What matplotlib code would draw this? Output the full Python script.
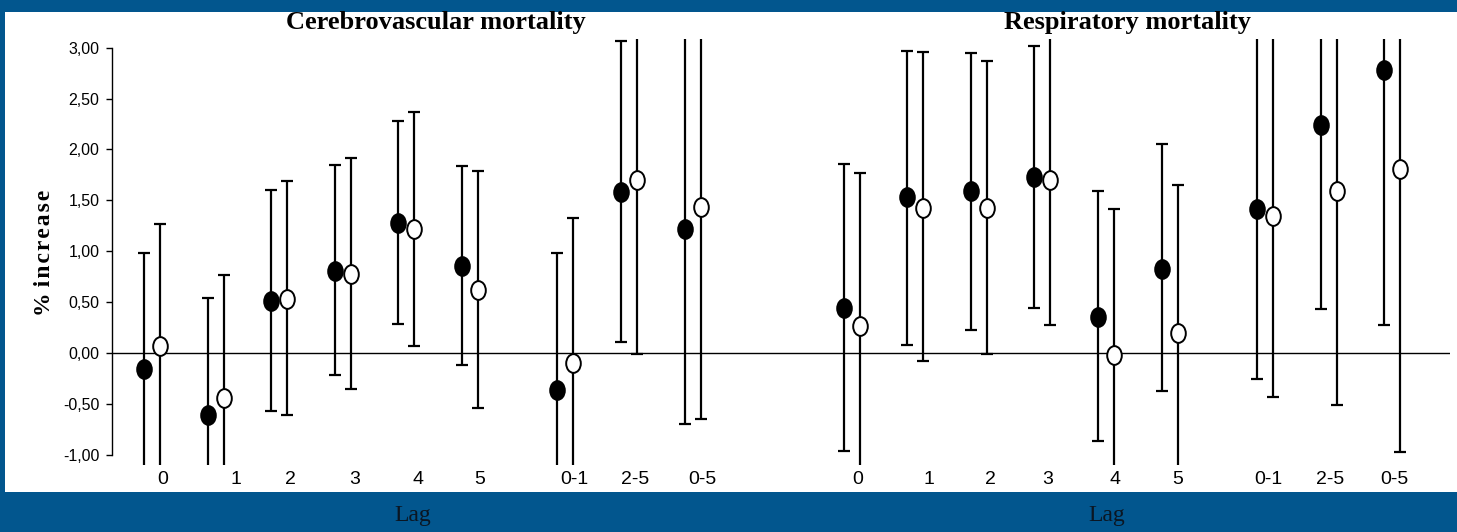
import numpy as np
import matplotlib
matplotlib.use("Agg")
import matplotlib.pyplot as plt
from matplotlib.patches import Rectangle
from matplotlib.path import Path
from matplotlib.transforms import Affine2D

# ── data (% increase in mortality, point estimate and 95% CI) ─────────────
lags = ["0", "1", "2", "3", "4", "5", "0-1", "2-5", "0-5"]

# Cerebrovascular mortality
cereb_filled = [-0.15, -0.61, 0.51, 0.81, 1.28, 0.86, -0.36, 1.58, 1.22]
cereb_filled_lo = [-1.28, -1.76, -0.57, -0.21, 0.29, -0.11, -1.69, 0.11, -0.69]
cereb_filled_hi = [0.98, 0.54, 1.60, 1.85, 2.28, 1.84, 0.98, 3.06, 3.13]
cereb_open = [0.07, -0.44, 0.53, 0.78, 1.22, 0.62, -0.10, 1.70, 1.44]
cereb_open_lo = [-1.14, -1.65, -0.61, -0.35, 0.07, -0.54, -1.53, -0.01, -0.64]
cereb_open_hi = [1.27, 0.77, 1.69, 1.92, 2.37, 1.79, 1.33, 3.41, 3.52]

# Respiratory mortality
resp_filled = [0.44, 1.53, 1.59, 1.73, 0.36, 0.83, 1.42, 2.24, 2.78]
resp_filled_lo = [-0.96, 0.08, 0.23, 0.44, -0.86, -0.37, -0.25, 0.43, 0.28]
resp_filled_hi = [1.86, 2.97, 2.95, 3.02, 1.59, 2.05, 3.12, 4.05, 5.28]
resp_open = [0.27, 1.43, 1.43, 1.70, -0.02, 0.20, 1.35, 1.59, 1.81]
resp_open_lo = [-1.23, -0.08, -0.01, 0.28, -1.46, -1.25, -0.43, -0.51, -0.97]
resp_open_hi = [1.77, 2.96, 2.87, 3.12, 1.42, 1.65, 3.13, 3.69, 4.59]

yticks = [-1.0, -0.5, 0.0, 0.5, 1.0, 1.5, 2.0, 2.5, 3.0]

# ── layout ────────────────────────────────────────────────────────────────
BLUE = "#02568e"
group_pos = np.array([0, 1, 2, 3, 4, 5, 6.5, 7.5, 8.5])
panel_offset = [0.0, 11.0]
# tick labels sit a little right of each group centre (not uniform in the original)
label_shift = [[0.17, 0.32, 0.18, 0.18, 0.18, 0.16, 0.14, 0.10, 0.15],
               [0.10, 0.22, 0.19, 0.09, 0.14, 0.12, 0.05, 0.03, 0.03]]
dx = 0.126

W, H = 1457, 532
fig = plt.figure(figsize=(W / 100, H / 100), dpi=100, facecolor=BLUE)
fig.patches.append(Rectangle((5 / W, 1 - 492 / H), 1 - 5 / W, (492 - 12) / H,
                             transform=fig.transFigure, facecolor="white",
                             edgecolor="none", zorder=-5))

ax = fig.add_axes([112 / W, 1 - 465 / H, (1450 - 112) / W, (465 - 39) / H])
ax.set_facecolor("none")
ax.set_zorder(2)

# slightly tall ellipse marker, like the original
ell = Path.unit_circle().transformed(Affine2D().scale(0.78, 1.0))

panels = [
    (cereb_filled, cereb_filled_lo, cereb_filled_hi, cereb_open, cereb_open_lo, cereb_open_hi),
    (resp_filled, resp_filled_lo, resp_filled_hi, resp_open, resp_open_lo, resp_open_hi),
]
tick_pos, tick_lab = [], []
for off, shift, (f, flo, fhi, o, olo, ohi) in zip(panel_offset, label_shift, panels):
    x = group_pos + off
    for xs, v, lo, hi, face in [(x - dx, f, flo, fhi, "black"), (x + dx, o, olo, ohi, "white")]:
        v, lo, hi = np.array(v), np.array(lo), np.array(hi)
        ax.errorbar(xs, v, yerr=[v - lo, hi - v], fmt="none", ecolor="black",
                    elinewidth=1.6, capsize=4.4, capthick=1.6, zorder=2)
        ax.plot(xs, v, linestyle="none", marker=ell, markersize=13.5,
                markerfacecolor=face, markeredgecolor="black", markeredgewidth=1.4, zorder=3)
    tick_pos += list(x + np.array(shift))
    tick_lab += lags

ax.axhline(0, color="black", lw=1.0, zorder=1)

ax.set_xlim(-0.629, 20.41)
ax.set_ylim(-1.096, 3.084)
for s in ["top", "right", "bottom"]:
    ax.spines[s].set_visible(False)
ax.spines["left"].set_bounds(-1, 3)
ax.spines["left"].set_linewidth(1.0)

ax.set_yticks(yticks)
ax.set_yticklabels([f"{t:.2f}".replace(".", ",") for t in yticks],
                   fontsize=11.5, family="Liberation Sans")
ax.tick_params(axis="y", length=4, width=1, pad=5)
ax.set_xticks(tick_pos)
ax.set_xticklabels(tick_lab, fontsize=14, family="Liberation Sans")
ax.tick_params(axis="x", length=0, pad=4)

# titles and labels
fig.text(436 / W, 1 - 22 / H, "Cerebrovascular mortality", ha="center", va="center",
         fontsize=19, fontweight="bold", family="Liberation Serif")
fig.text(1127 / W, 1 - 22 / H, "Respiratory mortality", ha="center", va="center",
         fontsize=19, fontweight="bold", family="Liberation Serif")
hs = "\u200a"
fig.text(45 / W, 1 - 253 / H, "%" + hs * 3 + hs.join("increase"),
         rotation=90, ha="center", va="center",
         fontsize=17, fontweight="bold", family=["Liberation Serif", "DejaVu Serif"])
for xc in [413, 1107]:
    fig.text(xc / W, 1 - 515 / H, "Lag", ha="center", va="center",
             fontsize=17, color="#0b1622", family="Liberation Serif")

fig.savefig("out.png", dpi=100, facecolor=BLUE)
